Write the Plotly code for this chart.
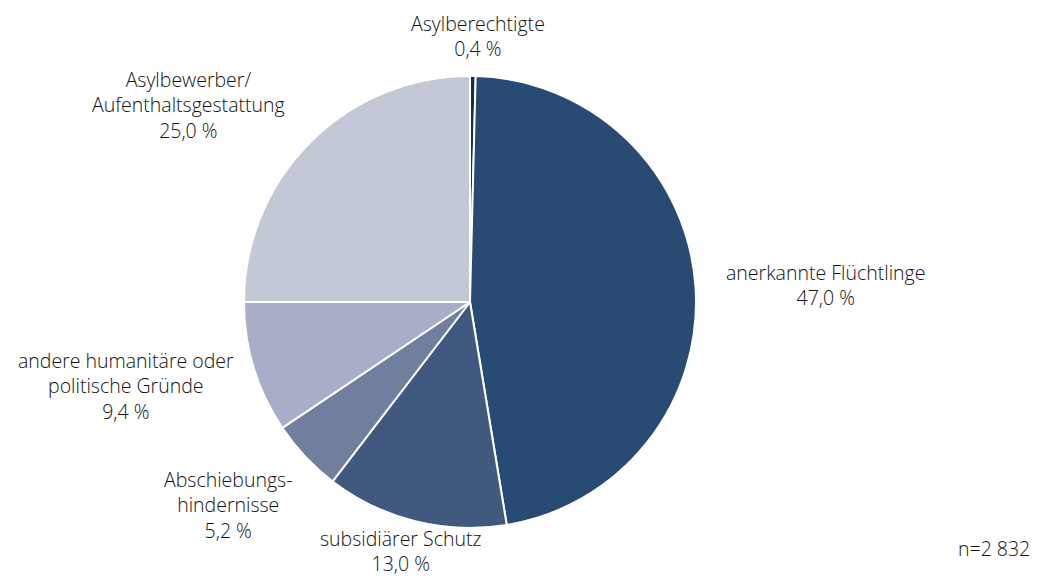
import plotly.graph_objects as go

# Aufenthaltsstatus, Anteile in Prozent (n=2 832)
categories = [
    "Asylberechtigte",
    "anerkannte Flüchtlinge",
    "subsidiärer Schutz",
    "Abschiebungshindernisse",
    "andere humanitäre oder politische Gründe",
    "Asylbewerber/Aufenthaltsgestattung",
]
shares = [0.4, 47.0, 13.0, 5.2, 9.4, 25.0]
label_lines = [
    ["Asylberechtigte"],
    ["anerkannte Flüchtlinge"],
    ["subsidiärer Schutz"],
    ["Abschiebungs-", "hindernisse"],
    ["andere humanitäre oder", "politische Gründe"],
    ["Asylbewerber/", "Aufenthaltsgestattung"],
]
colors = ["#0f2d4f", "#284b73", "#41597f", "#717f9e", "#a9aec8", "#c3c8d6"]

W, H = 1055, 576
cx, cy, r = 470, 302, 226

# label block centres in pixels
label_pos = [(478, 36), (825, 285), (400, 551), (228, 505), (126, 386), (188, 105)]

fig = go.Figure(
    go.Pie(
        labels=categories,
        values=shares,
        sort=False,
        direction="clockwise",
        rotation=0,
        marker=dict(colors=colors, line=dict(color="white", width=2)),
        textinfo="none",
        hoverinfo="label+percent",
        showlegend=False,
        domain=dict(
            x=[(cx - r) / W, (cx + r) / W],
            y=[1 - (cy + r) / H, 1 - (cy - r) / H],
        ),
    )
)

font = dict(family="Open Sans, sans-serif", size=19.5, color="#111111", weight=300)

for lines, v, (px, py) in zip(label_lines, shares, label_pos):
    txt = "<br>".join(lines + [f"{v:.1f}".replace(".", ",") + " %"])
    fig.add_annotation(
        x=px / W, y=1 - py / H, xref="paper", yref="paper",
        text=txt, showarrow=False, xanchor="center", yanchor="middle",
        align="center", font=font, borderpad=0,
    )

fig.add_annotation(
    x=1031 / W, y=1 - 548 / H, xref="paper", yref="paper",
    text="n=2 832", showarrow=False, xanchor="right", yanchor="middle",
    font=font, borderpad=0,
)

fig.update_layout(
    width=W, height=H,
    margin=dict(l=0, r=0, t=0, b=0),
    paper_bgcolor="white", plot_bgcolor="white",
)

fig.write_html("out.html")
